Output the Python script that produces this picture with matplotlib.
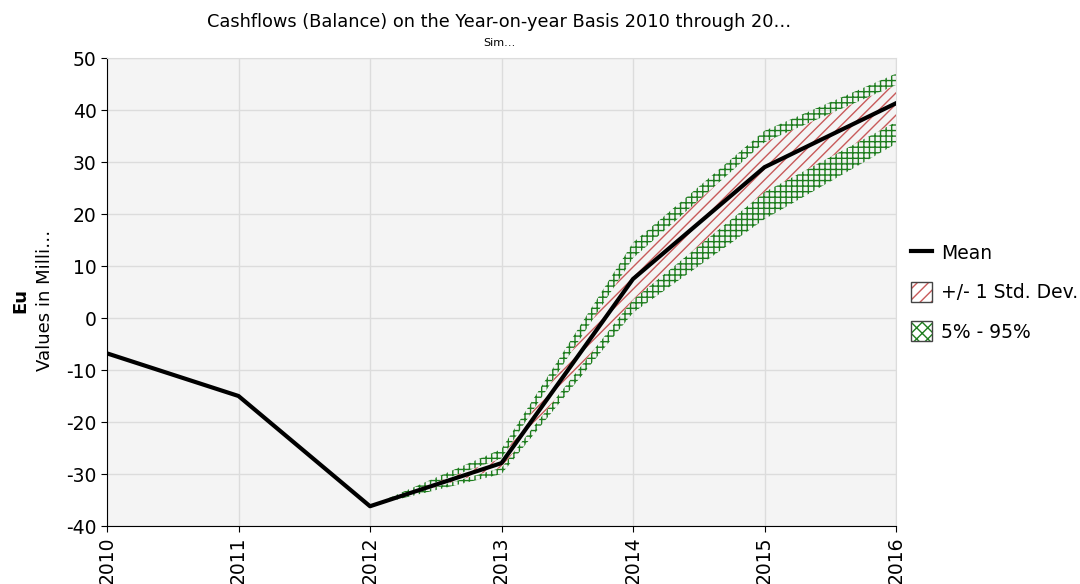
import numpy as np
import matplotlib
matplotlib.use('Agg')
import matplotlib.pyplot as plt
from matplotlib.patches import Patch
from matplotlib.lines import Line2D

# Werte (in Millionen)
jahre = [2010, 2011, 2012, 2013, 2014, 2015, 2016]
mittel = [-6.8, -15.0, -36.2, -27.9, 7.5, 29.0, 41.3]

# Bänder ab 2012
jahre_band = [2012, 2013, 2014, 2015, 2016]
std_oben = [-36.2, -27.0, 11.5, 33.8, 44.8]
std_unten = [-36.2, -28.8, 3.5, 24.2, 37.7]
p95 = [-36.2, -25.2, 14.5, 36.0, 47.0]
p5 = [-36.2, -30.0, 1.0, 19.0, 33.5]

bg = '#f4f4f4'
rot = '#c85a5a'
gruen = '#1e7d1e'

plt.rcParams['font.family'] = 'DejaVu Sans'
plt.rcParams['hatch.linewidth'] = 1.0
plt.rcParams['axes.unicode_minus'] = False

fig = plt.figure(figsize=(10.8, 5.84), dpi=100)
ax = fig.add_axes([107/1080, 1-526/584, (896-107)/1080, (526-58)/584])
ax.set_facecolor(bg)

# 5% - 95%
ax.fill_between(jahre_band, p5, p95, facecolor='none', edgecolor=gruen,
                hatch='+++', linewidth=0, zorder=2)
# +/- 1 Std. Dev.
ax.fill_between(jahre_band, std_unten, std_oben, facecolor=bg, edgecolor=rot,
                hatch='///', linewidth=0, zorder=3)
ax.plot(jahre, mittel, color='black', lw=3, zorder=4)

ax.set_xlim(2010, 2016)
ax.set_ylim(-40, 50)
ax.set_xticks(jahre)
ax.set_xticklabels([str(j) for j in jahre], rotation=90, fontsize=13.5)
ax.set_yticks(np.arange(-40, 51, 10))
ax.tick_params(axis='y', labelsize=13.5, length=4)
ax.tick_params(axis='x', length=4)
ax.grid(True, color='#dcdcdc', lw=1)
ax.set_axisbelow(True)
for s in ['top', 'right']:
    ax.spines[s].set_color('#dcdcdc')
for s in ['left', 'bottom']:
    ax.spines[s].set_color('black')

fig.text(0.462, 0.963, 'Cashflows (Balance) on the Year-on-year Basis 2010 through 20…',
         ha='center', va='center', fontsize=12.8)
fig.text(0.462, 0.926, 'Sim…', ha='center', va='center', fontsize=8)

fig.text(20/1080, 1-300/584, 'Eu', rotation=90, ha='center', va='center',
         fontsize=13, fontweight='bold')
fig.text(45/1080, 1-300/584, 'Values in Milli…', rotation=90, ha='center',
         va='center', fontsize=13)

h_mean = Line2D([], [], color='black', lw=3)
h_std = (Patch(facecolor='white', edgecolor=rot, hatch='///', lw=0),
         Patch(facecolor='none', edgecolor='#444444', lw=1))
h_pct = (Patch(facecolor='white', edgecolor=gruen, hatch='xxx', lw=0),
         Patch(facecolor='none', edgecolor='#444444', lw=1))
fig.legend([h_mean, h_std, h_pct], ['Mean', '+/- 1 Std. Dev.', '5% - 95%'],
           loc='center left', bbox_to_anchor=(898/1080, 1-292/584),
           frameon=False, fontsize=13.5, handlelength=1.1, handleheight=1.3,
           labelspacing=1.0, handletextpad=0.5, borderaxespad=0.3)

fig.savefig('out.png', dpi=100)
